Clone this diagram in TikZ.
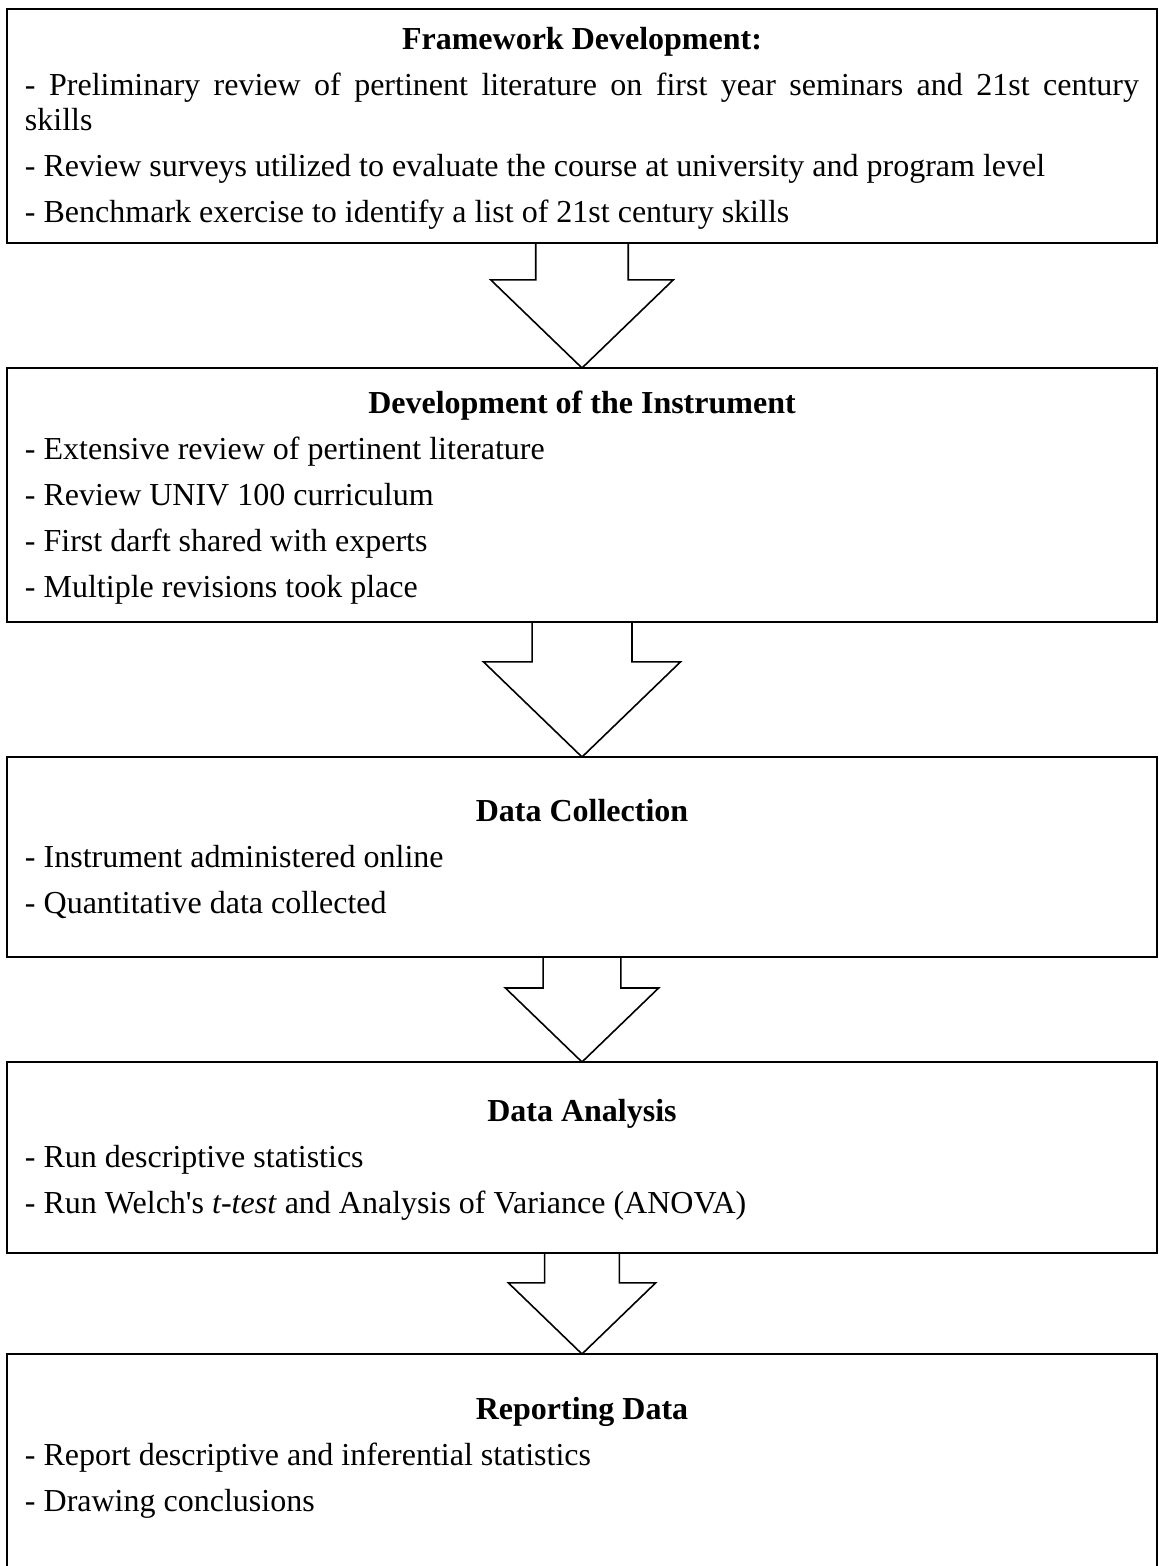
\documentclass[tikz,border=0pt]{standalone}
\usepackage{fontspec}
\setmainfont{Liberation Serif}
\usetikzlibrary{calc}

\hyphenpenalty=10000
\tolerance=9999

\tikzset{
  stageBox/.style={draw, line width=0.8pt, anchor=north, outer sep=0pt,
    text width=557pt, inner xsep=9pt, inner ysep=0pt, align=justify,
    font=\fontsize{16}{17.5}\selectfont},
  flowArrow/.style={draw, line width=0.8pt, line join=miter},
}
\newcommand{\stageTitle}[1]{{\centering\bfseries\rule{0pt}{13.5pt}#1\par}\vspace{5.5pt}}
\newcommand{\stageItem}[1]{#1\par\vspace{5.5pt}}

\begin{document}
\begin{tikzpicture}[x=0.5pt, y=-0.5pt] % units are pixels of the page
	\newcommand{\blockArrow}[2]{%
		\draw[flowArrow] let \p1=(#1.south), \p2=(#2.north), \n1={\y1-\y2} in
			({\x2-0.37*\n1},\y1) -- ({\x2-0.37*\n1},{\y1-0.295*\n1}) -- ({\x2-0.73*\n1},{\y1-0.295*\n1})
			-- (\p2) -- ({\x2+0.73*\n1},{\y1-0.295*\n1}) -- ({\x2+0.37*\n1},{\y1-0.295*\n1}) -- ({\x2+0.37*\n1},\y1);}
	
	\useasboundingbox (0,0) rectangle (1158,1566);
	
	% stages
	\node[stageBox, minimum height=117pt] (framework) at (582,9) {\stageTitle{Framework Development:}
		\stageItem{- Preliminary review of pertinent literature on first year seminars and 21st century\linebreak skills}
		\stageItem{- Review surveys utilized to evaluate the course at university and program level}
		- Benchmark exercise to identify a list of 21st century skills};
	
	\node[stageBox, minimum height=127pt] (instrument) at (582,368) {\stageTitle{Development of the Instrument}
		\stageItem{- Extensive review of pertinent literature}
		\stageItem{- Review UNIV 100 curriculum}
		\stageItem{- First darft shared with experts}
		- Multiple revisions took place};
	
	\node[stageBox, minimum height=100pt] (collection) at (582,757) {\stageTitle{Data Collection}
		\stageItem{- Instrument administered online}
		- Quantitative data collected};
	
	\node[stageBox, minimum height=95.5pt] (analysis) at (582,1062) {\stageTitle{Data Analysis}
		\stageItem{- Run descriptive statistics}
		- Run Welch\textquotesingle{}s \textit{t-test} and Analysis of Variance (ANOVA)};
	
	\node[stageBox, minimum height=118pt] (reporting) at (582,1354) {\stageTitle{Reporting Data}
		\stageItem{- Report descriptive and inferential statistics}
		- Drawing conclusions\rule[-20pt]{0pt}{1pt}};
	
	% block arrows between stages
	\blockArrow{framework}{instrument}
	\blockArrow{instrument}{collection}
	\blockArrow{collection}{analysis}
	\blockArrow{analysis}{reporting}
\end{tikzpicture}
\end{document}
